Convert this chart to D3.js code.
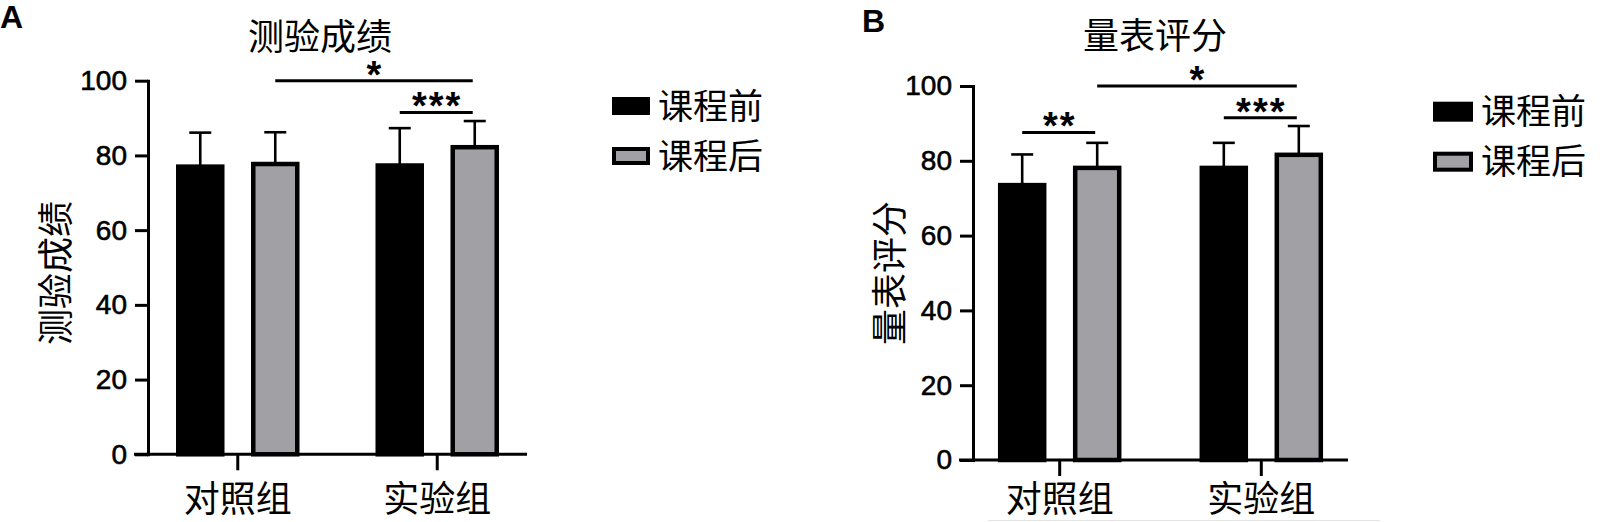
<!DOCTYPE html>
<meta charset="utf-8">
<script src="https://d3js.org/d3.v7.min.js"></script>
<style>
  body { margin: 0; background: #fff; }
  .cjk { font-family: "Noto Sans CJK SC", sans-serif; }
  .num { font-family: "Liberation Sans", Arial, sans-serif; }
</style>
<div id="my_dataviz"></div>
<script>
// shared categories
var groups = ["对照组", "实验组"];
var series = ["课程前", "课程后"];
var yTicks = [0, 20, 40, 60, 80, 100];

// A: 测验成绩 (mean, upper error)
var testBefore = [77.0, 77.3];
var testAfter = [77.7, 82.2];
var testBeforeErr = [9.1, 10.0];
var testAfterErr = [8.5, 7.0];
var testSig = [
  {a: [0, 1], b: [1, 1], level: 100, label: "*"},
  {a: [1, 0], b: [1, 1], level: 91.5, label: "***"}
];

// B: 量表评分
var scaleBefore = [73.5, 78.1];
var scaleAfter = [78.1, 81.6];
var scaleBeforeErr = [8.2, 6.7];
var scaleAfterErr = [6.7, 7.7];
var scaleSig = [
  {a: [0, 0], b: [0, 1], level: 87.6, label: "**"},
  {a: [0, 1], b: [1, 1], level: 100, label: "*"},
  {a: [1, 0], b: [1, 1], level: 91.5, label: "***"}
];

var colors = ["#000000", "#a1a1a5"];

var svg = d3.select("#my_dataviz")
  .append("svg")
    .attr("width", 1600)
    .attr("height", 522);

function drawPanel(cfg) {
  var g = svg.append("g");

  var y = d3.scaleLinear().domain([0, 100]).range([cfg.bottom, cfg.top]);
  var x0 = d3.scaleBand().domain(groups)
      .range([cfg.left, cfg.right])
      .paddingInner(0.5).paddingOuter(cfg.po);
  var x1 = d3.scalePoint().domain(series).range([-37.5, 37.5]);
  var barW = 44;

  var rows = [];
  groups.forEach(function(grp, i) {
    rows.push({g: grp, s: series[0], si: 0, v: cfg.before[i], e: cfg.beforeErr[i]});
    rows.push({g: grp, s: series[1], si: 1, v: cfg.after[i], e: cfg.afterErr[i]});
  });
  function cx(d) { return x0(d.g) + x0.bandwidth() / 2 + x1(d.s); }

  // error bars (upper only)
  var err = g.append("g").attr("stroke", "#000").attr("stroke-width", 2.6);
  err.selectAll(".ev").data(rows).enter().append("line")
    .attr("x1", cx).attr("x2", cx)
    .attr("y1", function(d) { return y(d.v); })
    .attr("y2", function(d) { return y(d.v + d.e); });
  err.selectAll(".ec").data(rows).enter().append("line")
    .attr("x1", function(d) { return cx(d) - 11; })
    .attr("x2", function(d) { return cx(d) + 11; })
    .attr("y1", function(d) { return y(d.v + d.e); })
    .attr("y2", function(d) { return y(d.v + d.e); });

  // bars
  g.append("g").selectAll("rect").data(rows).enter().append("rect")
    .attr("x", function(d) { return cx(d) - barW / 2; })
    .attr("width", barW)
    .attr("y", function(d) { return y(d.v); })
    .attr("height", function(d) { return y(0) - y(d.v); })
    .attr("fill", function(d) { return colors[d.si]; })
    .attr("stroke", "#000")
    .attr("stroke-width", 4.5);

  // y axis
  var ya = g.append("g")
    .attr("transform", "translate(" + cfg.left + ",0)")
    .call(d3.axisLeft(y).tickValues(yTicks).tickSize(13).tickSizeOuter(0).tickPadding(8));
  ya.select(".domain").attr("stroke-width", 3).attr("stroke-linecap", "square");
  ya.selectAll(".tick line").attr("stroke-width", 3);
  ya.selectAll(".tick text")
    .attr("class", "num")
    .style("font-size", "28px")
    .attr("fill", "#000")
    .attr("stroke", "#000").attr("stroke-width", 0.6);

  // x axis
  g.append("line")
    .attr("x1", cfg.left - 14).attr("x2", cfg.right)
    .attr("y1", y(0)).attr("y2", y(0))
    .attr("stroke", "#000").attr("stroke-width", 3);
  var xa = g.append("g")
    .attr("transform", "translate(0," + y(0) + ")")
    .call(d3.axisBottom(x0).tickSize(16).tickSizeOuter(0));
  xa.select(".domain").remove();
  xa.selectAll(".tick line").attr("stroke-width", 3);
  xa.selectAll(".tick text")
    .attr("class", "cjk")
    .attr("y", cfg.catY).attr("dy", "0.36em")
    .style("font-size", "36px")
    .attr("fill", "#000");

  // significance brackets
  var sg = g.append("g").selectAll("g").data(cfg.sig).enter().append("g");
  function sx(p) { return x0(groups[p[0]]) + x0.bandwidth() / 2 + x1(series[p[1]]); }
  sg.append("line")
    .attr("x1", function(d) { return sx(d.a); })
    .attr("x2", function(d) { return sx(d.b) - 2; })
    .attr("y1", function(d) { return y(d.level); })
    .attr("y2", function(d) { return y(d.level); })
    .attr("stroke", "#000").attr("stroke-width", 3);
  sg.append("text")
    .attr("class", "num")
    .attr("x", function(d) { return (sx(d.a) + sx(d.b)) / 2; })
    .attr("y", function(d) { return y(d.level) + 7; })
    .attr("text-anchor", "middle")
    .style("font-size", "38px")
    .style("font-weight", "bold")
    .style("letter-spacing", "2px")
    .text(function(d) { return d.label; });

  // title
  g.append("text")
    .attr("class", "cjk")
    .attr("x", cfg.titleX).attr("y", cfg.titleY).attr("dy", "0.36em")
    .attr("text-anchor", "middle")
    .style("font-size", "36px")
    .text(cfg.title);

  // y label
  g.append("text")
    .attr("class", "cjk")
    .attr("transform", "translate(" + cfg.ylabX + ",273) rotate(-90)")
    .attr("dy", "0.36em")
    .attr("text-anchor", "middle")
    .style("font-size", "36px")
    .text(cfg.title);

  // panel letter
  g.append("text")
    .attr("class", "num")
    .attr("x", cfg.letterX).attr("y", cfg.letterY)
    .style("font-size", "32px")
    .style("font-weight", "bold")
    .text(cfg.letter);

  // legend
  var lg = g.append("g").selectAll("g").data(series).enter().append("g")
    .attr("transform", function(d, i) { return "translate(" + cfg.legX + "," + (cfg.legY + i * 50) + ")"; });
  lg.append("rect")
    .attr("x", 2).attr("y", -cfg.legH / 2 + 2)
    .attr("width", cfg.legW - 4).attr("height", cfg.legH - 4)
    .attr("fill", function(d, i) { return colors[i]; })
    .attr("stroke", "#000").attr("stroke-width", 4);
  lg.append("text")
    .attr("class", "cjk")
    .attr("x", cfg.legW + 8).attr("dy", "0.36em")
    .style("font-size", "35px")
    .text(function(d) { return d; });
}

drawPanel({
  letter: "A", letterX: 0, letterY: 28,
  title: "测验成绩", titleX: 320, titleY: 37, ylabX: 56,
  left: 148, right: 527, top: 80.7, bottom: 454.3, po: 0.2, catY: 45,
  before: testBefore, after: testAfter,
  beforeErr: testBeforeErr, afterErr: testAfterErr, sig: testSig,
  legX: 612, legY: 106, legW: 38, legH: 18
});

drawPanel({
  letter: "B", letterX: 862, letterY: 32,
  title: "量表评分", titleX: 1155, titleY: 36, ylabX: 890,
  left: 973, right: 1348, top: 86, bottom: 460, po: 0.18, catY: 39,
  before: scaleBefore, after: scaleAfter,
  beforeErr: scaleBeforeErr, afterErr: scaleAfterErr, sig: scaleSig,
  legX: 1433, legY: 111.7, legW: 40, legH: 20
});

// faint scan edge under panel B
svg.append("line")
  .attr("x1", 988).attr("x2", 1380).attr("y1", 520.5).attr("y2", 520.5)
  .attr("stroke", "#e4e4e4").attr("stroke-width", 1);
</script>
